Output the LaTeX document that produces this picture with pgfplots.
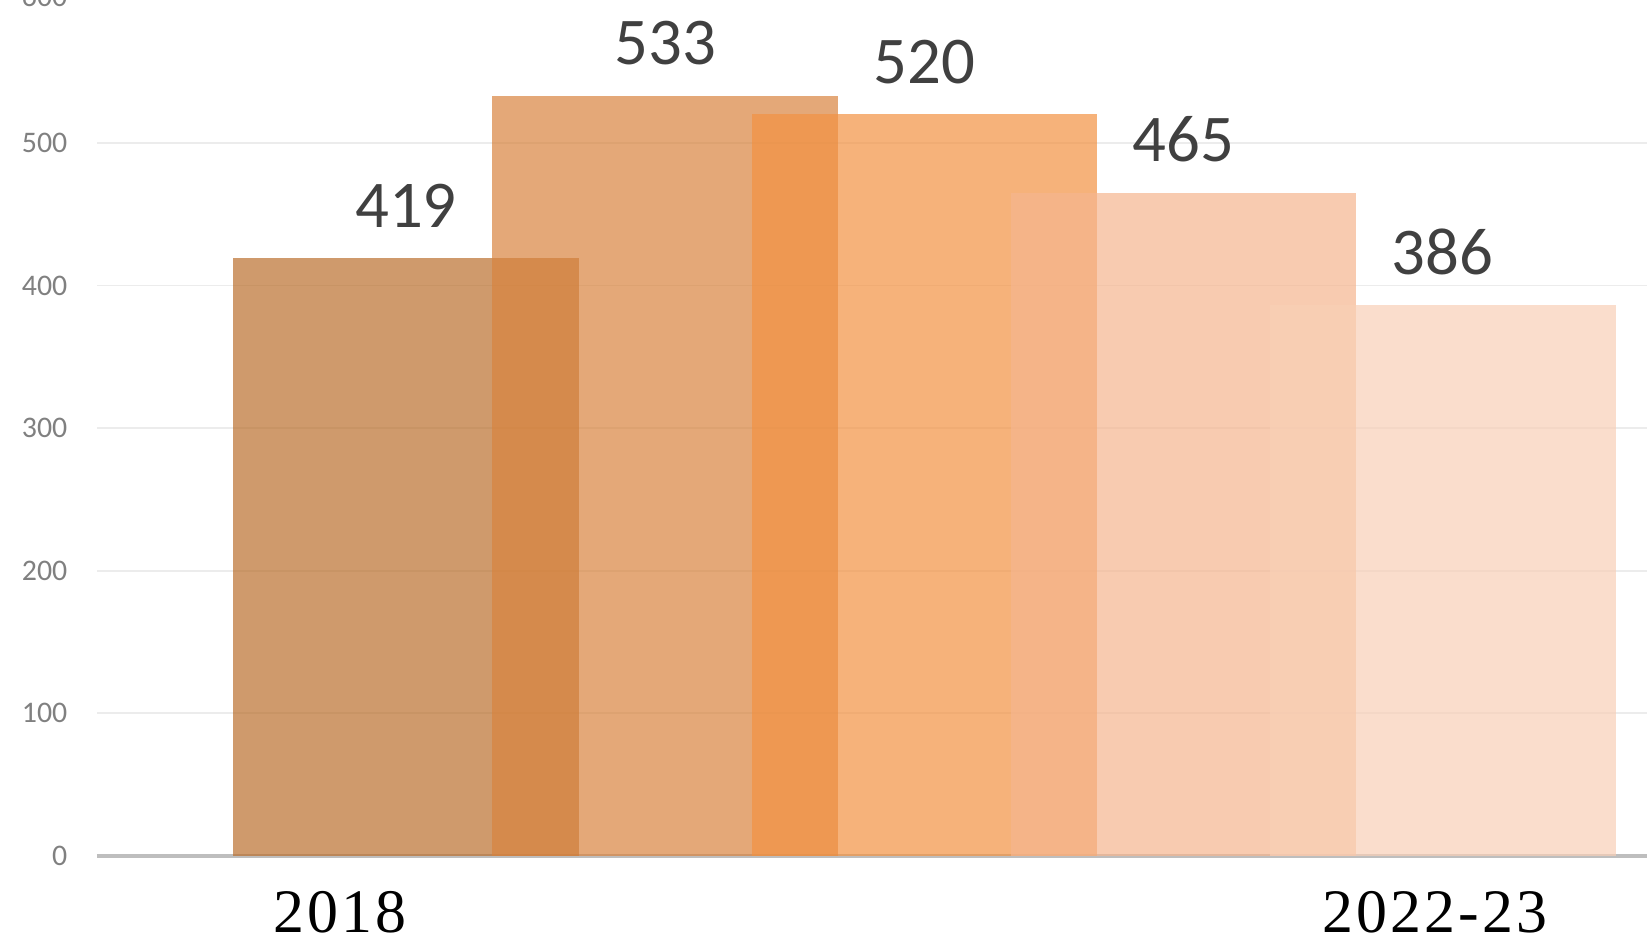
\documentclass[border=0pt]{standalone}
\usepackage{fontspec}
\setmainfont{Carlito}
\newfontfamily\serifx[LetterSpace=5]{Liberation Serif}
\usepackage{pgfplots}
\pgfplotsset{compat=1.18}
\definecolor{cA}{RGB}{186,111,45}
\definecolor{cB}{RGB}{216,131,62}
\definecolor{cC}{RGB}{242,146,66}
\definecolor{cD}{RGB}{245,181,142}
\definecolor{cE}{RGB}{248,207,182}
\definecolor{tickgray}{RGB}{128,128,128}
\definecolor{labelgray}{RGB}{64,64,64}
\definecolor{gridgray}{RGB}{236,236,236}
\definecolor{axisgray}{RGB}{190,190,190}
\begin{document}
\begin{tikzpicture}
\useasboundingbox (-9.7mm,-8.3mm) rectangle (155.0mm,85.6mm);
\begin{axis}[
  at={(0,0)}, anchor=south west,
  scale only axis, width=155.0mm, height=85.57mm,
  xmin=-1.192, xmax=4.788, ymin=0, ymax=600,
  ytick={0,100,...,500},
  extra y ticks={600},
  extra y tick style={grid=none, yticklabel style={yshift=0.4mm}},
  xtick={-0.253,3.971}, xticklabels={2018,2022-23},
  /pgf/number format/assume math mode=true,
  separate axis lines,
  axis x line*=bottom, axis y line*=left,
  y axis line style={draw=none},
  x axis line style={-, draw=axisgray, line width=0.9pt},
  major tick length=0pt,
  ymajorgrids, grid style={draw=gridgray, line width=0.5pt},
  yticklabel style={font=\fontsize{8.5}{10}\selectfont, text=tickgray, anchor=east, inner sep=0pt, xshift=-2.9mm},
  xticklabel style={font=\serifx\fontsize{17.6}{20}\selectfont, text=black, anchor=north, inner sep=0pt, yshift=-3.5mm},
  every node near coord/.append style={font=\fontsize{19}{22}\selectfont, text=labelgray, anchor=south, inner sep=0pt, yshift=3mm, text opacity=1},
]
\addplot[ybar, bar shift=0pt, bar width=1.3333, fill=cA, fill opacity=0.7, draw=none, nodes near coords] coordinates {(0,419)};
\addplot[ybar, bar shift=0pt, bar width=1.3333, fill=cB, fill opacity=0.7, draw=none, nodes near coords] coordinates {(1,533)};
\addplot[ybar, bar shift=0pt, bar width=1.3333, fill=cC, fill opacity=0.7, draw=none, nodes near coords] coordinates {(2,520)};
\addplot[ybar, bar shift=0pt, bar width=1.3333, fill=cD, fill opacity=0.7, draw=none, nodes near coords] coordinates {(3,465)};
\addplot[ybar, bar shift=0pt, bar width=1.3333, fill=cE, fill opacity=0.7, draw=none, nodes near coords] coordinates {(4,386)};
\end{axis}
\end{tikzpicture}
\end{document}
